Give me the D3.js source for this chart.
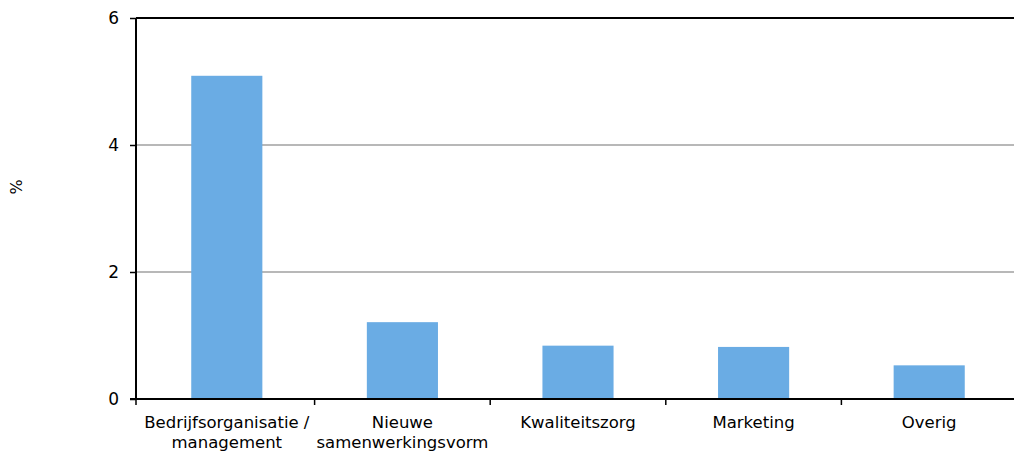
<!DOCTYPE html>
<html><head><meta charset="utf-8">
<script src="https://cdn.jsdelivr.net/npm/d3@7"></script>
<style>body{margin:0;background:#fff;} text{font-family:"DejaVu Sans",Verdana,sans-serif;}</style>
</head><body>
<svg id="c" width="1014" height="455"></svg>
<script>
const categories = [["Bedrijfsorganisatie /","management"],["Nieuwe","samenwerkingsvorm"],["Kwaliteitszorg"],["Marketing"],["Overig"]];
const values = [5.09, 1.21, 0.84, 0.82, 0.53];
const yTicks = [0, 2, 4, 6];
const yLabel = "%";

const svg = d3.select("#c");
const xb = d3.scaleBand().domain(d3.range(categories.length)).range([139, 1017]);
const barW = xb.bandwidth() * 0.405;
const y = d3.scaleLinear().domain([0, 6]).range([399, 18]);

// gridlines
svg.append("g").selectAll("line").data([2,4]).join("line")
  .attr("x1", 136).attr("x2", 1014).attr("y1", d=>y(d)).attr("y2", d=>y(d))
  .attr("stroke", "#a0a0a0").attr("stroke-width", 1.5);
svg.append("line").attr("x1",136).attr("x2",1014).attr("y1",y(6)).attr("y2",y(6)).attr("stroke","#000").attr("stroke-width",2);

// bars
svg.append("g").selectAll("rect").data(values).join("rect")
  .attr("x", (d,i)=>xb(i)+xb.bandwidth()/2 - barW/2)
  .attr("width", barW)
  .attr("y", d=>y(d)).attr("height", d=>y(0)-y(d))
  .attr("fill", "#6aace4");

// y axis
const ya = svg.append("g").attr("transform","translate(136,0)")
  .call(d3.axisLeft(y).tickValues(yTicks).tickSize(6).tickPadding(11).tickFormat(d3.format("d")));
ya.select(".domain").attr("stroke","#000").attr("stroke-width",2).attr("d","M0,"+y(6)+"V"+y(0));
ya.selectAll(".tick line").attr("stroke","#000").attr("stroke-width",1.5);
ya.selectAll("text").attr("font-size",17).attr("font-family","DejaVu Sans").attr("fill","#000");

// x axis
const xa = svg.append("g").attr("transform","translate(0,399)");
xa.append("line").attr("x1",130).attr("x2",1014).attr("stroke","#000").attr("stroke-width",2);
xa.selectAll("line.t").data(d3.range(categories.length)).join("line").attr("class","t")
  .attr("x1",d=>d===0?136:xb(d)).attr("x2",d=>d===0?136:xb(d)).attr("y1",0).attr("y2",6).attr("stroke","#000").attr("stroke-width",1.5);
xa.selectAll("text.l").data(categories).join("text").attr("class","l")
  .attr("text-anchor","middle").attr("font-size",16.5).attr("fill","#000")
  .attr("transform",(d,i)=>`translate(${xb(i)+xb.bandwidth()/2},0)`)
  .selectAll("tspan").data(d=>d).join("tspan")
  .attr("x",0).attr("y",(d,j)=>29+j*20).text(d=>d);

// y label
svg.append("text").attr("transform","translate(22,187) rotate(-90)").attr("text-anchor","middle")
  .attr("font-size",16).attr("fill","#000").text(yLabel);
</script>
</body></html>
